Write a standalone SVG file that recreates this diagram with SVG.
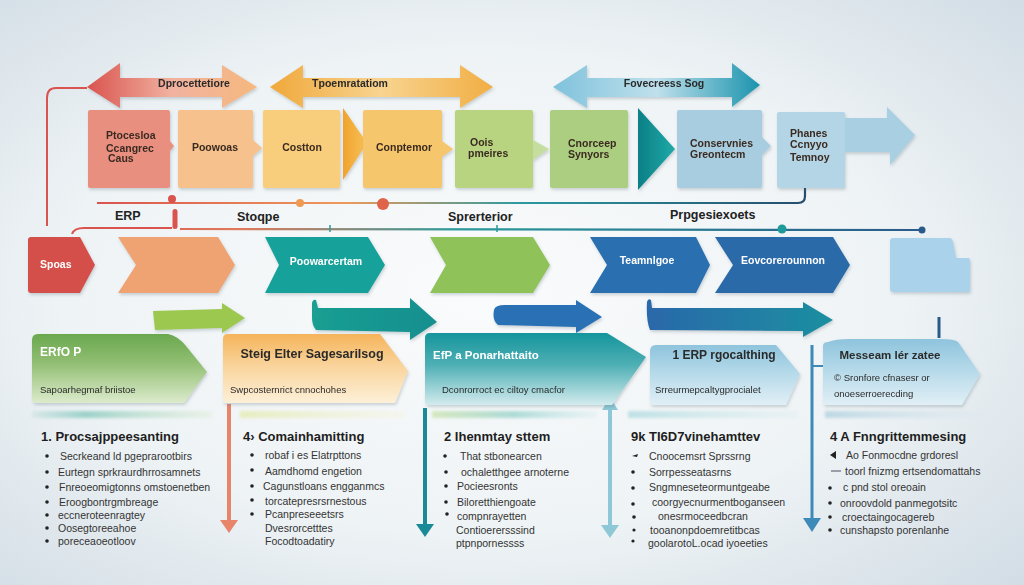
<svg xmlns="http://www.w3.org/2000/svg" width="1024" height="585" viewBox="0 0 1024 585">
<defs>
  <radialGradient id="bg" cx="0.47" cy="0.5" r="0.75">
    <stop offset="0" stop-color="#fafbfc"/>
    <stop offset="0.55" stop-color="#eef3f5"/>
    <stop offset="1" stop-color="#d0dbe4"/>
  </radialGradient>
  <linearGradient id="gRed" x1="0" x2="1"><stop offset="0" stop-color="#d9534f"/><stop offset="0.5" stop-color="#f1b2a0"/><stop offset="1" stop-color="#f5b87e"/></linearGradient>
  <linearGradient id="gOr" x1="0" x2="1"><stop offset="0" stop-color="#f0a83a"/><stop offset="0.5" stop-color="#f8d490"/><stop offset="1" stop-color="#f1ae44"/></linearGradient>
  <linearGradient id="gBl" x1="0" x2="1"><stop offset="0" stop-color="#7fc2dc"/><stop offset="0.5" stop-color="#bfe0ec"/><stop offset="1" stop-color="#1b94ad"/></linearGradient>
  <linearGradient id="lineA" x1="97" x2="805" gradientUnits="userSpaceOnUse"><stop offset="0" stop-color="#d9534f"/><stop offset="0.35" stop-color="#ee9a5a"/><stop offset="0.6" stop-color="#2a9aa0"/><stop offset="1" stop-color="#264d6e"/></linearGradient>
  <linearGradient id="lineB" x1="72" x2="925" gradientUnits="userSpaceOnUse"><stop offset="0" stop-color="#d9534f"/><stop offset="0.2" stop-color="#e07a5a"/><stop offset="0.45" stop-color="#2a9a9a"/><stop offset="1" stop-color="#2a5a8a"/></linearGradient>
  <linearGradient id="pGreen" x1="0" y1="0" x2="0" y2="1"><stop offset="0" stop-color="#6aa84f"/><stop offset="0.4" stop-color="#8fbd70"/><stop offset="1" stop-color="#dcebcc"/></linearGradient>
  <linearGradient id="pOr" x1="0" y1="0" x2="0" y2="1"><stop offset="0" stop-color="#f5b45a"/><stop offset="0.45" stop-color="#f9d39a"/><stop offset="1" stop-color="#fdf0d8"/></linearGradient>
  <linearGradient id="pTeal" x1="0" y1="0" x2="0" y2="1"><stop offset="0" stop-color="#15959c"/><stop offset="0.45" stop-color="#4fb0b5"/><stop offset="1" stop-color="#d3ebee"/></linearGradient>
  <linearGradient id="pLb" x1="0" y1="0" x2="0" y2="1"><stop offset="0" stop-color="#8ec4dd"/><stop offset="0.5" stop-color="#b8dbea"/><stop offset="1" stop-color="#e1eff6"/></linearGradient>
  <linearGradient id="arTeal" x1="0" x2="1"><stop offset="0" stop-color="#1a9e92"/><stop offset="1" stop-color="#158f8f"/></linearGradient>
  <linearGradient id="arBlue2" x1="0" x2="1"><stop offset="0" stop-color="#2a68aa"/><stop offset="1" stop-color="#1c8fa0"/></linearGradient>
  <linearGradient id="triT" x1="0" x2="1"><stop offset="0" stop-color="#0c7f86"/><stop offset="1" stop-color="#1eaaa8"/></linearGradient>
  <linearGradient id="triO" x1="0" x2="1"><stop offset="0" stop-color="#f0a32c"/><stop offset="1" stop-color="#f7c15a"/></linearGradient>
  <linearGradient id="strip1" x1="0" x2="1"><stop offset="0" stop-color="#7cc4b8" stop-opacity="0.2"/><stop offset="0.3" stop-color="#7cc4b8"/><stop offset="1" stop-color="#c9e3b8" stop-opacity="0.3"/></linearGradient>
  <linearGradient id="strip2" x1="0" x2="1"><stop offset="0" stop-color="#e2eaa8"/><stop offset="1" stop-color="#f2f0c8" stop-opacity="0.3"/></linearGradient>
  <linearGradient id="strip3" x1="0" x2="1"><stop offset="0" stop-color="#c8e2a8"/><stop offset="0.5" stop-color="#8fcfc8"/><stop offset="1" stop-color="#bfe3e6" stop-opacity="0.3"/></linearGradient>
  <linearGradient id="strip4" x1="0" x2="1"><stop offset="0" stop-color="#a8d8dc"/><stop offset="1" stop-color="#cfe8ec" stop-opacity="0.3"/></linearGradient>
  <linearGradient id="strip5" x1="0" x2="1"><stop offset="0" stop-color="#a9ccdc"/><stop offset="1" stop-color="#d4e4ec" stop-opacity="0.2"/></linearGradient>
  <filter id="sh" x="-10%" y="-10%" width="130%" height="140%"><feDropShadow dx="1" dy="2" stdDeviation="1.8" flood-color="#4a5a66" flood-opacity="0.25"/></filter>
  <filter id="blur" x="-5%" y="-100%" width="110%" height="300%"><feGaussianBlur stdDeviation="1.5"/></filter>
  <style>
    .t{font-family:"Liberation Sans",Arial,sans-serif;fill:#2a2a2a}
    .b{font-weight:bold}
    .w{fill:#ffffff}
    .bx{font-size:10.5px;font-weight:bold;fill:#3a2a20}
    .lab{font-size:12.5px;font-weight:bold;fill:#222}
    .h{font-size:13px;font-weight:bold;fill:#1e1e1e}
    .li{font-size:10.5px;fill:#333}
    .bul{fill:#222}
  </style>
</defs>

<rect width="1024" height="585" fill="url(#bg)"/>

<!-- connectors -->
<g id="connectors" fill="none">
  <path d="M87,88 L56,88 Q47,88 47,98 L47,226" stroke="#d9534f" stroke-width="2"/>
  <path d="M97,203 L798,203 Q805,203 805,196 L805,188" stroke="url(#lineA)" stroke-width="2.2"/>
  <path d="M72,234 Q74,228 84,228 L172,228" stroke="#d9534f" stroke-width="2"/>
  <path d="M180,229 L922,230" stroke="url(#lineB)" stroke-width="2.2"/>
  <rect x="172.5" y="209" width="5" height="20" rx="2.5" fill="#d9534f"/>
  <circle cx="172" cy="199" r="4" fill="#d9534f"/>
  <circle cx="300" cy="203" r="4" fill="#ee9a50"/>
  <circle cx="383" cy="204" r="6" fill="#e0644a"/>
  <line x1="330" y1="225" x2="330" y2="232" stroke="#2a9a9a" stroke-width="1.5"/>
  <line x1="497" y1="225" x2="497" y2="232" stroke="#2a9a9a" stroke-width="1.5"/>
  <circle cx="782" cy="229" r="4.5" fill="#1f9a9a"/>
  <circle cx="922" cy="230" r="3.5" fill="#2a5a8a"/>
  <!-- lower vertical arrows -->
  <line x1="229" y1="404" x2="229" y2="522" stroke="#e8846a" stroke-width="4"/>
  <polygon points="220,520 238,520 229,533" fill="#e8846a"/>
  <line x1="425" y1="408" x2="425" y2="525" stroke="#1a8a96" stroke-width="4"/>
  <polygon points="416,524 434,524 425,537" fill="#1a8a96"/>
  <line x1="610" y1="406" x2="610" y2="527" stroke="#8ec8d6" stroke-width="4"/>
  <polygon points="602,410 618,410 610,397" fill="#8ec8d6"/>
  <polygon points="601,525 619,525 610,538" fill="#8ec8d6"/>
  <line x1="812" y1="345" x2="812" y2="520" stroke="#3d8ab8" stroke-width="3"/>
  <line x1="812" y1="366" x2="823" y2="366" stroke="#3d8ab8" stroke-width="2"/>
  <polygon points="803,518 821,518 812,532" fill="#3d8ab8"/>
  <line x1="939" y1="317" x2="939" y2="338" stroke="#2a5a8a" stroke-width="3"/>
</g>

<!-- top arrows -->
<g id="arrow-top-red" filter="url(#sh)">
  <polygon points="87,87 120,63 120,78 222,78 222,65 257,87 222,108 222,97 120,97 120,108" fill="url(#gRed)"/>
  <text class="t b" x="194" y="87" font-size="10.5" text-anchor="middle" fill="#3a2a25">Dprocettetiore</text>
</g>
<g id="arrow-top-orange" filter="url(#sh)">
  <polygon points="270,87 303,65 303,78 460,78 460,65 493,87 460,108 460,97 303,97 303,108" fill="url(#gOr)"/>
  <text class="t b" x="350" y="87" font-size="10.5" text-anchor="middle" fill="#3a2a20">Tpoemratatiom</text>
</g>
<g id="arrow-top-blue" filter="url(#sh)">
  <polygon points="553,87 587,65 587,78 732,78 732,63 760,85 732,107 732,97 587,97 587,108" fill="url(#gBl)"/>
  <text class="t b" x="664" y="87" font-size="10.5" text-anchor="middle" fill="#1e2e3a">Fovecreess Sog</text>
</g>

<!-- top boxes -->
<g id="box1" filter="url(#sh)">
  <path d="M90,110 H168 Q170,110 170,112 V141 L174,146 L170,151 V186 Q170,188 168,188 H90 Q88,188 88,186 V112 Q88,110 90,110 Z" fill="#e98f80"/>
  <text class="t bx" x="106" y="139" font-size="10">Ptocesloa</text>
  <text class="t bx" x="106" y="152" font-size="12">Ccangrec</text>
  <text class="t bx" x="108" y="162" font-size="8">Caus</text>
</g>
<g id="box2" filter="url(#sh)">
  <path d="M180,110 H251 Q253,110 253,112 V140 L262,148 L253,156 V186 Q253,188 251,188 H180 Q178,188 178,186 V112 Q178,110 180,110 Z" fill="#f6c18c"/>
  <text class="t bx" x="215" y="151" text-anchor="middle">Poowoas</text>
</g>
<g id="box3" filter="url(#sh)">
  <rect x="263" y="110" width="77" height="78" rx="2" fill="#f8cd7c"/>
  <text class="t bx" x="302" y="151" text-anchor="middle">Costton</text>
  <polygon points="343,108 367,143 343,180" fill="url(#triO)"/>
</g>
<g id="box4" filter="url(#sh)">
  <path d="M365,110 H440 Q442,110 442,112 V141 L453,149 L442,157 V186 Q442,188 440,188 H365 Q363,188 363,186 V112 Q363,110 365,110 Z" fill="#f6c66c"/>
  <text class="t bx" x="404" y="151" text-anchor="middle" font-size="11">Conptemor</text>
</g>
<g id="box5" filter="url(#sh)">
  <rect x="455" y="110" width="78" height="78" rx="2" fill="#b9d480"/>
  <polygon points="533,140 549,149 533,160" fill="#c6dda0"/>
  <text class="t bx" x="470" y="146">Oois</text>
  <text class="t bx" x="468" y="157" font-size="10">pmeires</text>
</g>
<g id="box6" filter="url(#sh)">
  <rect x="550" y="110" width="78" height="78" rx="2" fill="#abce80"/>
  <text class="t bx" x="568" y="147">Cnorceep</text>
  <text class="t bx" x="568" y="158">Synyors</text>
  <polygon points="638,108 675,149 638,190" fill="url(#triT)"/>
</g>
<g id="box7" filter="url(#sh)">
  <path d="M679,110 H760 Q762,110 762,112 V137 L771,146 L762,155 V186 Q762,188 760,188 H679 Q677,188 677,186 V112 Q677,110 679,110 Z" fill="#a8cde0"/>
  <text class="t bx" x="690" y="147" fill="#24384a">Conservnies</text>
  <text class="t bx" x="690" y="158" fill="#24384a">Greontecm</text>
</g>
<g id="box8" filter="url(#sh)">
  <rect x="777" y="112" width="68" height="76" rx="2" fill="#b3d5e5"/>
  <polygon points="845,118 887,118 887,107 915,135 890,165 890,152 845,152" fill="#a9cfe2"/>
  <text class="t bx" x="790" y="137" fill="#24384a">Phanes</text>
  <text class="t bx" x="790" y="148" font-size="9.5" fill="#24384a">Ccnyyo</text>
  <text class="t bx" x="790" y="161" fill="#24384a">Temnoy</text>
</g>

<!-- timeline labels -->
<g id="labels">
  <text class="t lab" x="115" y="220" font-size="13">ERP</text>
  <text class="t lab" x="237" y="221" font-size="11.5">Stoqpe</text>
  <text class="t lab" x="448" y="221" font-size="12">Sprerterior</text>
  <text class="t lab" x="670" y="219" font-size="12">Prpgesiexoets</text>
</g>

<!-- middle chevrons -->
<g id="chev-spoas" filter="url(#sh)">
  <path d="M31,237 H80 L95,265 L80,293 H31 Q28,293 28,290 V240 Q28,237 31,237 Z" fill="#d4504a"/>
  <text class="t b w" x="40" y="268" font-size="10.5">Spoas</text>
</g>
<g id="chev-orange" filter="url(#sh)">
  <polygon points="118,237 218,237 235,265 218,293 118,293 136,265" fill="#efa272"/>
</g>
<g id="chev-teal" filter="url(#sh)">
  <polygon points="265,237 368,237 385,265 368,293 265,293 279,265" fill="#19a29a"/>
  <text class="t b w" x="326" y="265" font-size="10.5" text-anchor="middle">Poowarcertam</text>
</g>
<g id="chev-green" filter="url(#sh)">
  <polygon points="430,237 533,237 550,265 533,293 430,293 446,265" fill="#90c25a"/>
</g>
<g id="chev-blue1" filter="url(#sh)">
  <polygon points="590,237 696,237 710,265 696,293 590,293 607,265" fill="#2a6fb0"/>
  <text class="t b w" x="647" y="264" font-size="10.5" text-anchor="middle">Teamnlgoe</text>
</g>
<g id="chev-blue2" filter="url(#sh)">
  <polygon points="715,237 833,237 850,265 833,293 715,293 733,265" fill="#2b6aa8"/>
  <text class="t b w" x="783" y="264" font-size="10.5" text-anchor="middle">Eovcorerounnon</text>
</g>
<g id="doc-lightblue" filter="url(#sh)">
  <path d="M893,238 H950 Q952,238 953,242 L956,258 H968 Q970,258 970,261 V290 Q970,292 967,292 H893 Q890,292 890,289 V241 Q890,238 893,238 Z" fill="#aad2ea"/>
</g>

<!-- flow arrows -->
<g id="flow-arrows" filter="url(#sh)">
  <polygon points="153,311 222,309 222,303 245,318 222,333 222,328 155,330" fill="#9cc850"/>
  <path d="M312,303 Q313,299 316,300 L318,308 L410,308 L410,298 L437,322 L410,340 L410,332 L316,330 Q312,325 312,318 Z" fill="url(#arTeal)"/>
  <path d="M494,310 Q495,305 505,305 L576,305 L576,300 L602,317 L576,333 L576,327 L498,325 Q492,320 494,310 Z" fill="#2a70b5"/>
  <path d="M647,302 Q648,298 651,300 L652,308 L803,308 L803,302 L833,320 L803,337 L803,331 L650,330 Q646,320 647,302 Z" fill="url(#arBlue2)"/>
</g>

<!-- lower panels -->
<g id="panel-green" filter="url(#sh)">
  <path d="M38,334 H168 Q178,336 186,346 L207,372 L184,403 H36 Q32,403 32,399 V340 Q32,334 38,334 Z" fill="url(#pGreen)"/>
  <text class="t b w" x="40" y="356" font-size="12">ERfO P</text>
  <text class="t" x="40" y="393" font-size="9.5" fill="#333">Sapoarhegmaf briistoe</text>
</g>
<g id="panel-orange" filter="url(#sh)">
  <path d="M228,334 H380 L408,371 L395,403 H226 Q223,403 223,400 V339 Q223,334 228,334 Z" fill="url(#pOr)"/>
  <text class="t b" x="312" y="358" font-size="12.5" text-anchor="middle" fill="#2a2018">Steig Elter Sagesarilsog</text>
  <text class="t" x="230" y="393" font-size="9.5" fill="#333">Swpcosternrict cnnochohes</text>
</g>
<g id="panel-teal" filter="url(#sh)">
  <path d="M430,333 H607 L646,357 L612,405 H428 Q425,405 425,401 V338 Q425,333 430,333 Z" fill="url(#pTeal)"/>
  <text class="t b w" x="433" y="359" font-size="11.5">EfP a Ponarhattaito</text>
  <text class="t" x="442" y="393" font-size="9.5" fill="#2a3a40">Dconrorroct ec ciltoy cmacfor</text>
</g>
<g id="panel-lightblue1" filter="url(#sh)">
  <path d="M656,345 H776 L800,374 L786,405 H653 Q650,405 650,402 V351 Q650,345 656,345 Z" fill="url(#pLb)"/>
  <text class="t b" x="724" y="359" font-size="12" text-anchor="middle" fill="#1e2630">1 ERP rgocalthing</text>
  <text class="t" x="655" y="393" font-size="9.5" fill="#2a3440">Srreurmepcaltygprocialet</text>
</g>
<g id="panel-lightblue2" filter="url(#sh)">
  <path d="M828,342 Q835,339 850,339 H940 Q955,339 958,342 L980,374 L962,405 H826 Q823,405 823,402 V346 Q823,342 828,342 Z" fill="url(#pLb)"/>
  <text class="t b" x="890" y="359" font-size="11.5" text-anchor="middle" fill="#1e2630">Messeam lér zatee</text>
  <text class="t" x="834" y="381" font-size="9.5" fill="#2a3440">© Sronfore cfnasesr or</text>
  <text class="t" x="834" y="397" font-size="9.5" fill="#2a3440">onoeserroerecding</text>
</g>

<!-- faded strips -->
<g id="strips" filter="url(#blur)" opacity="0.7">
  <rect x="32" y="411" width="180" height="7" fill="url(#strip1)"/>
  <rect x="240" y="411" width="165" height="7" fill="url(#strip2)"/>
  <rect x="432" y="411" width="165" height="7" fill="url(#strip3)"/>
  <rect x="628" y="411" width="170" height="7" fill="url(#strip4)"/>
  <rect x="825" y="411" width="160" height="7" fill="url(#strip5)"/>
</g>

<!-- lists -->
<g id="list1">
  <text class="t h" x="41" y="441">1. Procsajppeesanting</text>
  <g class="bul"><circle cx="47" cy="456" r="1.8"/><circle cx="47" cy="472" r="1.8"/><circle cx="47" cy="487" r="1.8"/><circle cx="47" cy="502" r="1.8"/><circle cx="47" cy="515" r="1.8"/><circle cx="47" cy="528" r="1.8"/><circle cx="47" cy="541" r="1.8"/></g>
  <text class="t li" x="60" y="460">Secrkeand ld pgeprarootbirs</text>
  <text class="t li" x="58" y="476">Eurtegn sprkraurdhrrosamnets</text>
  <text class="t li" x="59" y="491">Fnreoeomigtonns omstoenetben</text>
  <text class="t li" x="59" y="506">Eroogbontrgmbreage</text>
  <text class="t li" x="58" y="519">eccneroteenragtey</text>
  <text class="t li" x="58" y="532">Oosegtoreeahoe</text>
  <text class="t li" x="58" y="545">poreceaoeotloov</text>
</g>
<g id="list2">
  <text class="t h" x="243" y="441">4› Comainhamitting</text>
  <g class="bul"><circle cx="252" cy="455" r="1.8"/><circle cx="252" cy="470" r="1.8"/><circle cx="252" cy="486" r="1.8"/><circle cx="252" cy="500" r="1.8"/><circle cx="252" cy="514" r="1.8"/></g>
  <text class="t li" x="265" y="459">robaf i es Elatrpttons</text>
  <text class="t li" x="265" y="475">Aamdhomd engetion</text>
  <text class="t li" x="263" y="490">Cagunstloans engganmcs</text>
  <text class="t li" x="265" y="505">torcatepresrsrnestous</text>
  <text class="t li" x="265" y="518">Pcanpreseeetsrs</text>
  <text class="t li" x="265" y="532">Dvesrorcetttes</text>
  <text class="t li" x="265" y="545">Focodtoadatiry</text>
</g>
<g id="list3">
  <text class="t h" x="444" y="441">2 Ihenmtay sttem</text>
  <g class="bul"><circle cx="445" cy="456" r="1.8"/><circle cx="446" cy="472" r="1.8"/><circle cx="446" cy="486" r="1.8"/><circle cx="446" cy="502" r="1.8"/><circle cx="447" cy="514" r="1.8"/></g>
  <text class="t li" x="460" y="460">That stbonearcen</text>
  <text class="t li" x="461" y="476">ochaletthgee arnoterne</text>
  <text class="t li" x="457" y="490">Pocieesronts</text>
  <text class="t li" x="457" y="506">Biloretthiengoate</text>
  <text class="t li" x="457" y="520">compnrayetten</text>
  <text class="t li" x="456" y="534">Contioerersssind</text>
  <text class="t li" x="456" y="547">ptpnpornessss</text>
</g>
<g id="list4">
  <text class="t h" x="631" y="441">9k TI6D7vinehamttev</text>
  <g class="bul"><path d="M632,456 L638,454 L637,457 Z"/><circle cx="633" cy="472" r="1.8"/><circle cx="633" cy="488" r="1.8"/><circle cx="633" cy="504" r="1.8"/><circle cx="634" cy="517" r="1.8"/><circle cx="634" cy="530" r="1.6"/><circle cx="633" cy="541" r="1.6"/></g>
  <text class="t li" x="649" y="460">Cnoocemsrt Sprssrng</text>
  <text class="t li" x="649" y="476">Sorrpesseatasrns</text>
  <text class="t li" x="649" y="491">Sngmneseteormuntgeabe</text>
  <text class="t li" x="652" y="506">coorgyecnurmentboganseen</text>
  <text class="t li" x="658" y="520">onesrmoceedbcran</text>
  <text class="t li" x="650" y="534">tooanonpdoemretitbcas</text>
  <text class="t li" x="648" y="547">goolarotoL.ocad iyoeeties</text>
</g>
<g id="list5">
  <text class="t h" x="830" y="441">4 A Fnngrittemmesing</text>
  <g class="bul"><path d="M830,455 L836,451 L836,459 Z"/><line x1="831" y1="471" x2="841" y2="471" stroke="#667" stroke-width="1.2"/><circle cx="830" cy="488" r="1.8"/><circle cx="830" cy="503" r="1.8"/><circle cx="830" cy="517" r="1.8"/><circle cx="830" cy="530" r="1.8"/></g>
  <text class="t li" x="846" y="459">Ao Fonmocdne grdoresl</text>
  <text class="t li" x="845" y="475">toorl fnizmg ertsendomattahs</text>
  <text class="t li" x="843" y="491">c pnd stol oreoain</text>
  <text class="t li" x="840" y="507">onroovdold panmegotsitc</text>
  <text class="t li" x="842" y="521">croectaingocagereb</text>
  <text class="t li" x="840" y="534">cunshapsto porenlanhe</text>
</g>
</svg>
